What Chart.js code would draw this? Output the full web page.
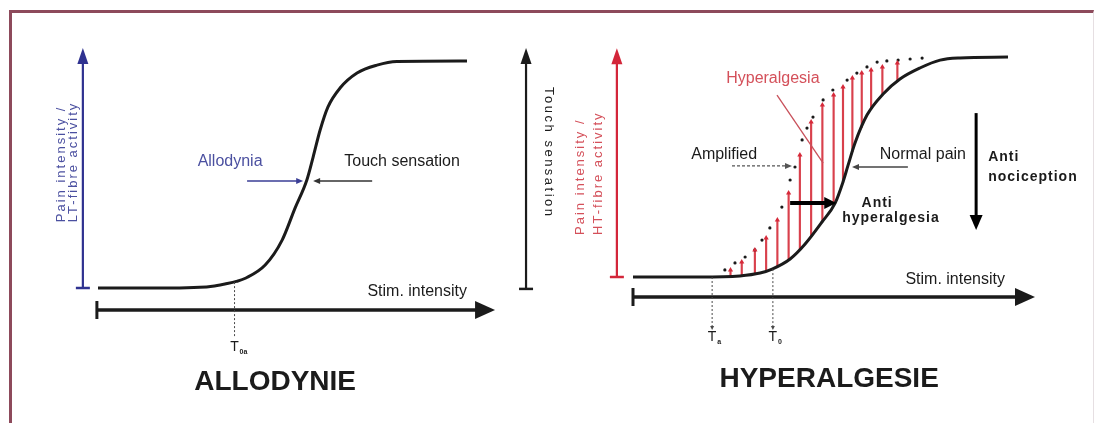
<!DOCTYPE html>
<html>
<head>
<meta charset="utf-8">
<script src="https://cdn.jsdelivr.net/npm/chart.js@4.4.1/dist/chart.umd.min.js"></script>
<style>
  html, body { margin: 0; padding: 0; background: #fff; }
  #page { position: relative; width: 1099px; height: 423px; overflow: hidden; background: #fff; }
  #frame { position: absolute; left: 9px; top: 10px; width: 1081px; height: 460px;
           border-left: 3px solid #8d4a5b; border-top: 3px solid #8d4a5b; border-right: 1px solid #e6dfe2; }
  #allo { position: absolute; left: 0; top: 0; }
  #hyper { position: absolute; left: 549px; top: 0; }
</style>
</head>
<body>
<div id="page">
  <div id="frame"></div>
  <canvas id="allo" width="580" height="423"></canvas>
  <canvas id="hyper" width="550" height="423"></canvas>
</div>
<script>
// left panel: touch / LT-fibre response vs stimulus (0-100 on both axes)
const alloStim = [0, 20, 27.6, 31, 34.4, 37.5, 40.1, 45.3, 49.9, 53.4, 56.6, 58.3, 60.2, 62.3, 65.6, 70.2, 75.6, 81, 100];
const alloResp = [0, 0, 0.3, 0.8, 1.8, 2.9, 4.4, 10.1, 21.1, 35.2, 47.6, 57.7, 69.6, 79.7, 88.1, 94.7, 98.2, 99.8, 100];
const alloThresholdStim = [37];
const alloThresholdResp = [2.6];
const alloThresholdSub = ['0a'];

// right panel: normal pain curve
const painStim = [0, 17.9, 28.5, 33.9, 37.1, 41.9, 45.9, 50.4, 53.9, 56, 57.3, 59.2, 62.4, 66.7, 71.2, 76.5, 81.9, 87.2, 100];
const painResp = [0, 0, 0.5, 1.8, 3.6, 8.2, 15, 25, 33.6, 43.2, 50.5, 60.9, 73.6, 83.2, 90, 95, 98.6, 99.6, 100];

// hyperalgesic (left-shifted) curve, drawn as dots
const hyperDotStim = [24.5, 27.2, 29.9, 32.5, 34.4, 36.5, 39.7, 41.9, 43.2, 45.1, 46.4, 48, 50.7, 53.3, 57.1, 59.7, 62.4, 65.1, 67.7, 70.7, 73.9, 77.1];
const hyperDotResp = [3.2, 6.4, 9.1, 12.3, 16.8, 22.3, 31.8, 44.1, 50, 62.3, 67.7, 72.7, 80.5, 85, 89.5, 92.7, 95.5, 97.7, 98.2, 98.6, 99.1, 99.5];

// red hatching between the two curves
const hatchStim = [26, 29, 32.5, 35.5, 38.5, 41.5, 44.5, 47.5, 50.5, 53.5, 56, 58.5, 61, 63.5, 66.5, 70.5];
const hatchTop = [3.2, 6.8, 12.3, 17.7, 25.9, 38.2, 55.5, 70.5, 78.2, 82.7, 86.4, 90.5, 92.7, 94.1, 95.5, 97.3];
const hatchBottom = [0.3, 0.6, 1.4, 2.6, 4.8, 7.8, 12.5, 18.5, 25.2, 32.5, 43, 57, 68, 76.5, 83, 89];

const hyperThresholdStim = [21.1, 37.3];
const hyperThresholdResp = [0, 3.6];
const hyperThresholdSub = ['a', '0'];

const ink = '#1b1b1b';
const FONT = '"Liberation Sans", Arial, Helvetica, sans-serif';

function pts(xs, ys) {
  return xs.map((x, i) => ({ x: x, y: ys[i] }));
}

function line(ctx, x1, y1, x2, y2, color, w, dash) {
  ctx.save();
  ctx.strokeStyle = color;
  ctx.lineWidth = w;
  ctx.setLineDash(dash || []);
  ctx.beginPath();
  ctx.moveTo(x1, y1);
  ctx.lineTo(x2, y2);
  ctx.stroke();
  ctx.restore();
}

function head(ctx, x, y, angle, len, wid, color) {
  ctx.save();
  ctx.translate(x, y);
  ctx.rotate(angle);
  ctx.beginPath();
  ctx.moveTo(0, 0);
  ctx.lineTo(-len, -wid / 2);
  ctx.lineTo(-len, wid / 2);
  ctx.closePath();
  ctx.fillStyle = color;
  ctx.fill();
  ctx.restore();
}

function arrow(ctx, x1, y1, x2, y2, o) {
  const a = Math.atan2(y2 - y1, x2 - x1);
  line(ctx, x1, y1, x2 - Math.cos(a) * o.len * 0.7, y2 - Math.sin(a) * o.len * 0.7, o.color, o.width, o.dash);
  head(ctx, x2, y2, a, o.len, o.wid, o.color);
}

function label(ctx, str, x, y, o) {
  ctx.save();
  ctx.translate(x, y);
  if (o.rot) ctx.rotate(o.rot);
  ctx.font = (o.bold ? 'bold ' : '') + o.size + 'px ' + FONT;
  ctx.fillStyle = o.color || ink;
  ctx.textAlign = o.align || 'center';
  ctx.textBaseline = 'middle';
  ctx.letterSpacing = (o.spacing || 0) + 'px';
  ctx.fillText(str, 0, 0);
  ctx.restore();
}

function axisV(ctx, x, yb, yt, color) {
  line(ctx, x, yb, x, yt + 12, color, 2.2);
  line(ctx, x - 7, yb, x + 7, yb, color, 2.5);
  head(ctx, x, yt, -Math.PI / 2, 16, 11, color);
}

function axisH(ctx, xl, xr, y) {
  line(ctx, xl, y, xr - 14, y, ink, 3.5);
  line(ctx, xl, y - 9, xl, y + 9, ink, 3);
  head(ctx, xr, y, 0, 20, 18, ink);
}

function threshold(ctx, x, yTop, yBot, yLab, sub, withHead) {
  line(ctx, x, yTop, x, yBot, '#4a4a4a', 1, [2, 2]);
  if (withHead) head(ctx, x, yBot + 3, Math.PI / 2, 4, 4, '#4a4a4a');
  label(ctx, 'T', x, yLab, { size: 14 });
  label(ctx, sub, x + 5, yLab + 5, { size: 7, bold: true, align: 'left' });
}

function baseOptions(pad) {
  return {
    responsive: false,
    animation: false,
    layout: { padding: pad },
    plugins: { legend: { display: false }, tooltip: { enabled: false } },
    scales: {
      x: { type: 'linear', min: 0, max: 100, display: false, offset: false },
      y: { type: 'linear', min: 0, max: 100, display: false }
    }
  };
}

const alloNotes = {
  id: 'alloNotes',
  afterDatasetsDraw(chart) {
    const ctx = chart.ctx;
    const X = v => chart.scales.x.getPixelForValue(v);
    const Y = v => chart.scales.y.getPixelForValue(v);
    const blue = '#2f3290', blueText = '#4b50a0';

    axisV(ctx, X(-4.1), Y(0), Y(105.7), blue);
    label(ctx, 'Pain intensity /', X(-9.8), Y(29), { size: 13, color: blueText, align: 'left', rot: -Math.PI / 2, spacing: 2 });
    label(ctx, 'LT-fibre activity', X(-6.6), Y(29), { size: 13, color: blueText, align: 'left', rot: -Math.PI / 2, spacing: 2 });

    axisV(ctx, X(116), Y(-0.4), Y(105.7), ink);
    label(ctx, 'Touch sensation', X(122), Y(88.5), { size: 13, align: 'left', rot: Math.PI / 2, spacing: 2.5 });

    axisH(ctx, X(-0.3), X(107.6), Y(-9.7));
    label(ctx, 'Stim. intensity', X(100), Y(-1.8), { size: 16, align: 'right' });

    alloThresholdStim.forEach((s, i) =>
      threshold(ctx, X(s), Y(alloThresholdResp[i]), Y(-22), Y(-26), alloThresholdSub[i], false));

    label(ctx, 'Allodynia', X(35.8), Y(55.5), { size: 16, color: blueText });
    arrow(ctx, X(40.4), Y(47.1), X(55.6), Y(47.1), { color: '#3a3e96', width: 1.5, len: 7, wid: 6 });
    label(ctx, 'Touch sensation', X(82.4), Y(55.5), { size: 16 });
    arrow(ctx, X(74.3), Y(47.1), X(58.3), Y(47.1), { color: '#333', width: 1.5, len: 7, wid: 6 });

    label(ctx, 'ALLODYNIE', X(48), Y(-41.4), { size: 28, bold: true });
  }
};

const hyperNotes = {
  id: 'hyperNotes',
  afterDatasetsDraw(chart) {
    const ctx = chart.ctx;
    const X = v => chart.scales.x.getPixelForValue(v);
    const Y = v => chart.scales.y.getPixelForValue(v);
    const red = '#d3263a', redText = '#d4505a';

    axisV(ctx, X(-4.3), Y(0), Y(104), red);
    label(ctx, 'Pain intensity /', X(-14.1), Y(19.1), { size: 13, color: redText, align: 'left', rot: -Math.PI / 2, spacing: 2 });
    label(ctx, 'HT-fibre activity', X(-9.3), Y(19.1), { size: 13, color: redText, align: 'left', rot: -Math.PI / 2, spacing: 2 });

    axisH(ctx, X(0), X(107.2), Y(-9.1));
    label(ctx, 'Stim. intensity', X(99.2), Y(-1.4), { size: 16, align: 'right' });

    hyperThresholdStim.forEach((s, i) =>
      threshold(ctx, X(s), Y(hyperThresholdResp[i]), Y(-22.7), Y(-27.3), hyperThresholdSub[i], true));

    label(ctx, 'Hyperalgesia', X(37.3), Y(90), { size: 16, color: redText });
    line(ctx, X(38.4), Y(82.7), X(50.7), Y(51.8), '#c8505a', 1.3);

    label(ctx, 'Amplified', X(24.3), Y(55.5), { size: 16 });
    arrow(ctx, X(26.4), Y(50.5), X(42.4), Y(50.5), { color: '#555', width: 1.3, len: 7, wid: 6, dash: [3, 2] });

    label(ctx, 'Normal pain', X(77.3), Y(55.5), { size: 16 });
    arrow(ctx, X(73.3), Y(50), X(58.4), Y(50), { color: '#444', width: 1.5, len: 7, wid: 6 });

    arrow(ctx, X(41.9), Y(33.6), X(54.2), Y(33.6), { color: '#000', width: 4, len: 12, wid: 12 });
    label(ctx, 'Anti', X(65.1), Y(33.6), { size: 14, bold: true, spacing: 1 });
    label(ctx, 'hyperalgesia', X(68.8), Y(26.8), { size: 14, bold: true, spacing: 1 });

    arrow(ctx, X(91.5), Y(74.5), X(91.5), Y(21.4), { color: '#000', width: 3, len: 15, wid: 13 });
    label(ctx, 'Anti', X(94.7), Y(54.5), { size: 14, bold: true, align: 'left', spacing: 1 });
    label(ctx, 'nociception', X(94.7), Y(45.5), { size: 14, bold: true, align: 'left', spacing: 1 });

    label(ctx, 'HYPERALGESIE', X(52.3), Y(-46.4), { size: 28, bold: true });
  }
};

new Chart(document.getElementById('allo'), {
  type: 'line',
  data: {
    datasets: [{
      data: pts(alloStim, alloResp),
      borderColor: ink,
      borderWidth: 3,
      pointRadius: 0,
      cubicInterpolationMode: 'monotone',
      clip: false
    }]
  },
  options: baseOptions({ left: 98, right: 113, top: 61, bottom: 135 }),
  plugins: [alloNotes]
});

new Chart(document.getElementById('hyper'), {
  type: 'line',
  data: {
    datasets: [
      {
        type: 'bar',
        data: hatchStim.map((s, i) => ({ x: s, y: [hatchBottom[i], hatchTop[i]] })),
        backgroundColor: '#d9404c',
        barThickness: 1.5,
        grouped: false,
        order: 3,
        clip: false
      },
      {
        data: pts(painStim, painResp),
        borderColor: ink,
        borderWidth: 3,
        pointRadius: 0,
        cubicInterpolationMode: 'monotone',
        order: 1,
        clip: false
      },
      {
        data: pts(hatchStim, hatchTop),
        showLine: false,
        pointStyle: 'triangle',
        pointRadius: 3,
        pointBackgroundColor: '#d62a3a',
        pointBorderColor: '#d62a3a',
        pointBorderWidth: 0,
        order: 0,
        clip: false
      },
      {
        data: pts(hyperDotStim, hyperDotResp),
        showLine: false,
        pointRadius: 1.6,
        pointBackgroundColor: '#1a1a1a',
        pointBorderColor: '#1a1a1a',
        pointBorderWidth: 0,
        order: 0,
        clip: false
      }
    ]
  },
  options: baseOptions({ left: 84, right: 91, top: 57, bottom: 146 }),
  plugins: [hyperNotes]
});
</script>
</body>
</html>
